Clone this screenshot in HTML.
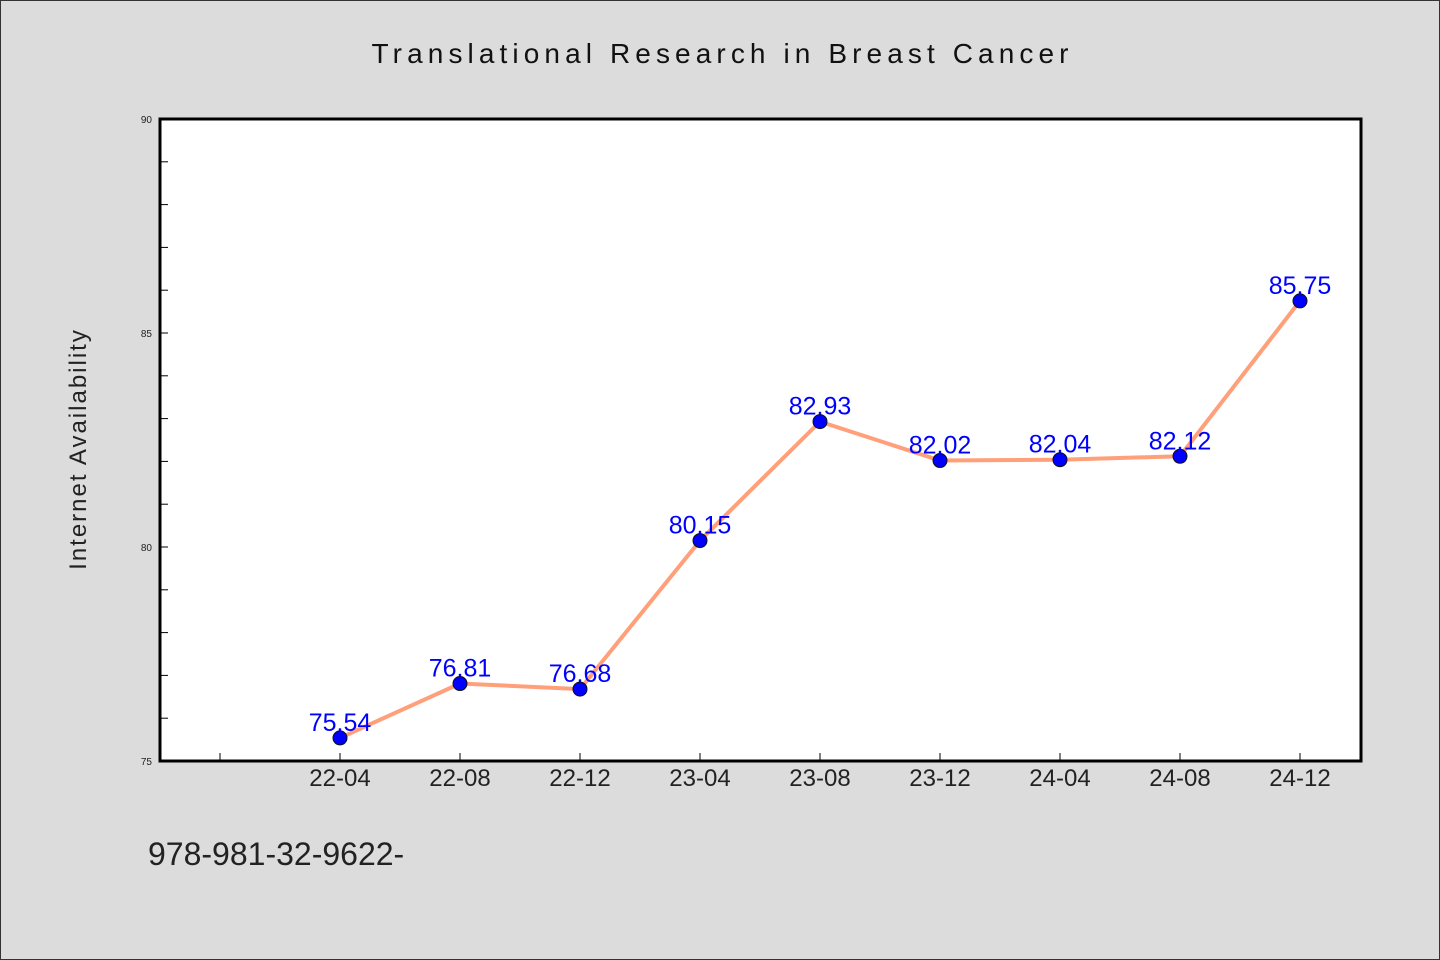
<!DOCTYPE html>
<html><head><meta charset="utf-8"><style>
html,body{margin:0;padding:0;background:#dcdcdc;}
svg{display:block;}
text{font-family:"WenQuanYi Zen Hei","Liberation Sans",sans-serif;}
</style></head><body>
<svg id="chart" width="1440" height="960" xmlns="http://www.w3.org/2000/svg">
<rect x="0.5" y="0.5" width="1439" height="959" fill="#dcdcdc" stroke="#333"/>
<text x="720" y="63" text-anchor="middle" font-size="28" textLength="697" fill="#111">Translational Research in Breast Cancer</text>
<rect x="160" y="119" width="1201" height="642" fill="#fff"/>
<g id="yaxis"></g>
<g id="xaxis"></g>
<g id="series"></g>
<rect x="160" y="119" width="1201" height="642" fill="none" stroke="#000" stroke-width="3"/>
<text x="86" y="449" transform="rotate(-90 86 449)" text-anchor="middle" font-size="24" letter-spacing="2" fill="#222">Internet Availability</text>
<text x="148" y="865" font-size="32" fill="#222">978-981-32-9622-</text>
</svg>
<script>
const categories = ["22-04","22-08","22-12","23-04","23-08","23-12","24-04","24-08","24-12"];
const values = [75.54,76.81,76.68,80.15,82.93,82.02,82.04,82.12,85.75];
const valueLabels = ["75.54","76.81","76.68","80.15","82.93","82.02","82.04","82.12","85.75"];
const yTicks = [75,80,85,90];
const yMin = 75, yMax = 90;
const NS = "http://www.w3.org/2000/svg";
const L=160,R=1361,T=119,B=761;
function yS(v){return B-(v-yMin)/(yMax-yMin)*(B-T);}
function xS(i){return 340+i*120;}
function mk(tag,attrs,parent){const e=document.createElementNS(NS,tag);for(const k in attrs)e.setAttribute(k,attrs[k]);parent.appendChild(e);return e;}
const ya=document.getElementById('yaxis'),xa=document.getElementById('xaxis'),sg=document.getElementById('series');
for(let v=yMin+1;v<yMax;v++){
  const t=mk('line',{x1:L,x2:L+8,y1:yS(v),y2:yS(v),stroke:'#000','stroke-width':1},ya);
  
  
}
yTicks.forEach(v=>{
  const t=mk('text',{x:L-8,y:yS(v)+4,'text-anchor':'end','font-size':10,fill:'#222'},ya);
  t.textContent=v;
  
  
});
for(let i=-1;i<categories.length;i++){
  const t=mk('line',{x1:xS(i),x2:xS(i),y1:B,y2:B-8,stroke:'#000','stroke-width':1},xa);
  
  
}
categories.forEach((c,i)=>{
  const t=mk('text',{x:xS(i),y:B+25,'text-anchor':'middle','font-size':24,fill:'#222'},xa);
  t.textContent=c;
  
  
});
const pl=mk('polyline',{points:values.map((v,i)=>xS(i)+','+yS(v)).join(' '),fill:'none',stroke:'#ffa07a','stroke-width':4},sg);


values.forEach((v,i)=>{
  const c=mk('circle',{cx:xS(i),cy:yS(v),r:7,fill:'#0000ff',stroke:'#111','stroke-width':1},sg);
  
  
  const t=mk('text',{x:xS(i),y:yS(v)-7,'text-anchor':'middle','font-size':25,fill:'#0000ff'},sg);
  t.textContent=valueLabels[i];
  
  
});
</script>
</body></html>
